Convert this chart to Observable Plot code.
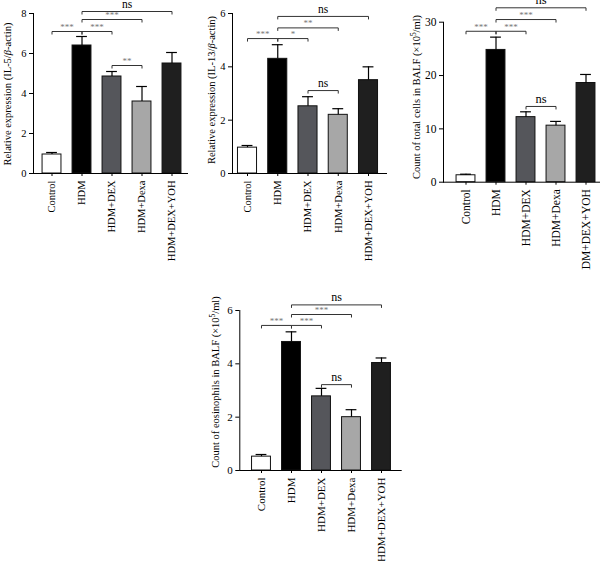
<!DOCTYPE html>
<html><head><meta charset="utf-8">
<script src="https://cdn.jsdelivr.net/npm/d3@7"></script>
<script src="https://cdn.jsdelivr.net/npm/@observablehq/plot@0.6"></script>
<style>
body{margin:0;background:#fff;}
#fig{position:relative;width:607px;height:561px;overflow:hidden;background:#fff;}
.panel{position:absolute;overflow:hidden;}
</style></head><body><div id="fig"></div>
<script>
// ---------- data ----------
const groups = ["Control", "HDM", "HDM+DEX", "HDM+Dexa", "HDM+DEX+YOH"];

const il5Mean = [0.95, 6.4, 4.85, 3.6, 5.5];
const il5Err  = [0.10, 0.45, 0.25, 0.75, 0.55];
const il5Sig  = [["Control","HDM",7.1,"***"],["HDM","HDM+DEX",7.1,"***"],["HDM","HDM+Dexa",7.7,"***"],["HDM","HDM+DEX+YOH",8.1,"ns"],["HDM+DEX","HDM+Dexa",5.4,"**"]];

const il13Mean = [0.97, 4.3, 2.52, 2.2, 3.5];
const il13Err  = [0.08, 0.53, 0.36, 0.23, 0.5];
const il13Sig  = [["Control","HDM",5.06,"***"],["HDM","HDM+DEX",5.06,"*"],["HDM","HDM+Dexa",5.46,"**"],["HDM","HDM+DEX+YOH",5.89,"ns"],["HDM+DEX","HDM+Dexa",3.11,"ns"]];

const totalMean = [1.3, 24.8, 12.2, 10.6, 18.6];
const totalErr  = [0.2, 2.4, 1.0, 0.8, 1.6];
const totalSig  = [["Control","HDM",28.3,"***"],["HDM","HDM+DEX",28.3,"***"],["HDM","HDM+Dexa",30.5,"***"],["HDM","HDM+DEX+YOH",32.7,"ns"],["HDM+DEX","HDM+Dexa",14.2,"ns"]];

const eosMean = [0.52, 4.82, 2.78, 2.0, 4.03];
const eosErr  = [0.08, 0.38, 0.30, 0.28, 0.19];
const eosSig  = [["Control","HDM",5.44,"***"],["HDM","HDM+DEX",5.44,"***"],["HDM","HDM+Dexa",5.85,"***"],["HDM","HDM+DEX+YOH",6.21,"ns"],["HDM+DEX","HDM+Dexa",3.22,"ns"]];

const il5Label   = [["Relative expression (IL-5/",""],["β","i"],["-actin)",""]];
const il13Label  = [["Relative expression (IL-13/",""],["β","i"],["-actin)",""]];
const totalLabel = [["Count of total cells in BALF (×10",""],["5","sup"],["/ml)",""]];
const eosLabel   = [["Count of eosinophils in BALF (×10",""],["5","sup"],["/ml)",""]];

// ---------- styles ----------
const barColors = ["#ffffff", "#000000", "#55565b", "#a7a7a7", "#1f1f1f"];
const barHalf = 0.315, capHalf = 0.18;
const FONT = '"Liberation Serif", "DejaVu Serif", serif';

function makePanel(cfg, means, errs, sigs, labelParts) {
  const bars = groups.map((g, i) => ({i, g, v: means[i], top: means[i] + errs[i]}));
  const idx = g => groups.indexOf(g);
  const sig = sigs.map(([a, b, lvl, lab]) => ({x1: idx(a), x2: idx(b), y: lvl, lab, star: lab !== "ns"}));
  const frameH = cfg.height - cfg.marginTop - cfg.marginBottom;
  const tickLen = 3 * cfg.yMax / frameH;
  const ends = sig.flatMap(d => [{x: d.x1, y: d.y}, {x: d.x2, y: d.y}]);
  const plot = Plot.plot({
    width: cfg.width, height: cfg.height,
    marginLeft: cfg.marginLeft, marginRight: cfg.marginRight,
    marginTop: cfg.marginTop, marginBottom: cfg.marginBottom,
    style: {fontFamily: FONT, fontSize: cfg.fs + "px", color: "#000", background: "transparent", overflow: "visible"},
    x: {domain: cfg.xDomain, ticks: groups.map((g, i) => i), tickFormat: i => groups[i],
        tickRotate: -90, tickSize: 3, tickPadding: 4, label: null},
    y: {domain: [0, cfg.yMax], ticks: cfg.yTicks, tickSize: 4, tickPadding: 3, label: null, line: true},
    color: {domain: groups, range: barColors},
    marks: [
      Plot.rect(bars, {x1: d => d.i - barHalf, x2: d => d.i + barHalf, y1: 0, y2: "v", fill: "g", stroke: "#111", strokeWidth: 1}),
      Plot.ruleX(bars, {x: "i", y1: "v", y2: "top", stroke: "#000", strokeWidth: 1.2}),
      Plot.ruleY(bars, {y: "top", x1: d => d.i - capHalf, x2: d => d.i + capHalf, stroke: "#000", strokeWidth: 1.2}),
      Plot.ruleY([0], {stroke: "#000"}),
      Plot.link(sig, {x1: "x1", x2: "x2", y1: "y", y2: "y", stroke: "#333", strokeWidth: 1}),
      Plot.link(ends, {x1: "x", x2: "x", y1: "y", y2: d => d.y - tickLen, stroke: "#333", strokeWidth: 1}),
      Plot.text(sig.filter(d => d.star), {x: d => (d.x1 + d.x2) / 2, y: "y", text: "lab", fill: "#777",
        fontSize: 9, lineAnchor: "bottom", dy: -1.5}),
      Plot.text(sig.filter(d => !d.star), {x: d => (d.x1 + d.x2) / 2, y: "y", text: "lab", fill: "#000",
        fontSize: cfg.fs + 1, lineAnchor: "bottom", dy: -3.5})
    ]
  });
  const svg = d3.select(plot);
  const t = svg.append("text")
    .attr("transform", `translate(${cfg.labelX},${cfg.labelY}) rotate(-90)`)
    .attr("text-anchor", "middle").attr("dy", "0.35em")
    .attr("font-family", FONT).attr("font-size", cfg.labelFs).attr("fill", "#000");
  let afterSup = false;
  for (const [txt, kind] of labelParts) {
    const ts = t.append("tspan").text(txt);
    if (kind === "i") ts.attr("font-style", "italic");
    if (kind === "sup") { ts.attr("font-size", cfg.labelFs * 0.7).attr("dy", "-0.45em"); afterSup = true; }
    else if (afterSup) { ts.attr("dy", (cfg.labelFs * 0.45 * 0.7) + "px"); afterSup = false; }
  }
  const div = document.createElement("div");
  div.className = "panel";
  Object.assign(div.style, {left: cfg.left + "px", top: cfg.top + "px", width: cfg.width + "px", height: cfg.clipH + "px"});
  div.appendChild(plot);
  document.getElementById("fig").appendChild(div);
}

makePanel({left: 0, top: 0, width: 200, height: 272, clipH: 272,
  marginLeft: 33, marginRight: 12, marginTop: 13, marginBottom: 99,
  xDomain: [-0.617, 4.55], yMax: 8, yTicks: 4, fs: 10.5, labelFs: 10.5, labelX: 7, labelY: 94},
  il5Mean, il5Err, il5Sig, il5Label);

makePanel({left: 200, top: 0, width: 200, height: 272, clipH: 272,
  marginLeft: 32, marginRight: 13, marginTop: 13, marginBottom: 99,
  xDomain: [-0.496, 4.628], yMax: 6, yTicks: 3, fs: 10.5, labelFs: 10.5, labelX: 11, labelY: 90},
  il13Mean, il13Err, il13Sig, il13Label);

makePanel({left: 400, top: 0, width: 207, height: 272, clipH: 270,
  marginLeft: 43, marginRight: 7, marginTop: 21.7, marginBottom: 90.3,
  xDomain: [-0.75, 4.483], yMax: 30, yTicks: 3, fs: 11.5, labelFs: 10.5, labelX: 16, labelY: 97},
  totalMean, totalErr, totalSig, totalLabel);

makePanel({left: 190, top: 290, width: 220, height: 271, clipH: 271,
  marginLeft: 49.3, marginRight: 8.3, marginTop: 20, marginBottom: 91,
  xDomain: [-0.723, 4.69], yMax: 6, yTicks: 3, fs: 11, labelFs: 10.5, labelX: 25, labelY: 92},
  eosMean, eosErr, eosSig, eosLabel);
</script></body></html>
